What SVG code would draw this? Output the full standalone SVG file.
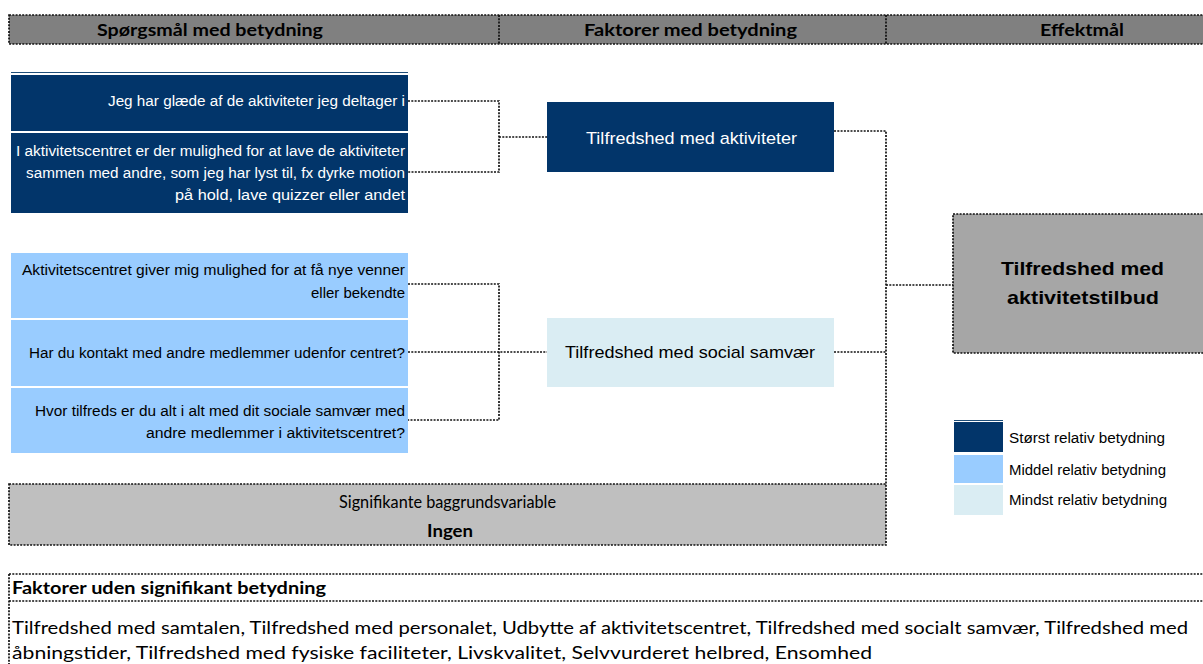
<svg xmlns="http://www.w3.org/2000/svg" width="1203" height="664" viewBox="0 0 1203 664">
<style>
.dash{fill:none;stroke:#111;stroke-width:1.7;stroke-dasharray:2 1.3}
.hdr{font-family:Lato,"Liberation Sans",sans-serif;font-weight:bold;font-size:17.5px;fill:#000;text-anchor:middle}
.q{font-family:"Liberation Sans",Arial,sans-serif;font-size:14px;text-anchor:end}
.qw{fill:#fff}
.qd{fill:#000}
.fac{font-family:"Liberation Sans",Arial,sans-serif;font-size:17px;text-anchor:middle}
.eff{font-family:"Liberation Sans",Arial,sans-serif;font-weight:bold;font-size:19px;text-anchor:middle;fill:#000}
.leg{font-family:"Liberation Sans",Arial,sans-serif;font-size:14px;fill:#000}
.cal{font-family:Lato,"Liberation Sans",sans-serif;font-size:16.5px;fill:#000}
.big{font-size:18px}
</style>
<rect width="1203" height="664" fill="#fff"/>
<g id="header">
<rect x="9" y="15" width="1196" height="29" fill="#808080"/>
<rect x="9" y="15" width="1196" height="29" class="dash"/>
<line x1="499" y1="15" x2="499" y2="44" class="dash"/>
<line x1="886" y1="15" x2="886" y2="44" class="dash"/>
<text x="210" y="36" class="hdr" textLength="226" lengthAdjust="spacingAndGlyphs">Spørgsmål med betydning</text>
<text x="690.5" y="36" class="hdr" textLength="213" lengthAdjust="spacingAndGlyphs">Faktorer med betydning</text>
<text x="1082" y="36" class="hdr" textLength="84" lengthAdjust="spacingAndGlyphs">Effektmål</text>
</g>
<g id="connectors">
<polyline points="408,101 499,101 499,172 408,172" class="dash"/>
<line x1="499" y1="137" x2="547" y2="137" class="dash"/>
<polyline points="834,131 886,131 886,484" class="dash"/>
<line x1="886" y1="285" x2="953" y2="285" class="dash"/>
<polyline points="408,284 499,284 499,420 408,420" class="dash"/>
<line x1="408" y1="352" x2="547" y2="352" class="dash"/>
<line x1="834" y1="352" x2="886" y2="352" class="dash"/>
</g>
<g id="q-group-1">
<line x1="11" y1="72.5" x2="408" y2="72.5" stroke="#1f4e79" stroke-width="1"/>
<rect x="11" y="75" width="397" height="56" fill="#02356a"/>
<rect x="11" y="133" width="397" height="80" fill="#02356a"/>
<text x="405" y="106" class="q qw" textLength="297" lengthAdjust="spacingAndGlyphs">Jeg har glæde af de aktiviteter jeg deltager i</text>
<text x="405" y="156" class="q qw" textLength="389" lengthAdjust="spacingAndGlyphs">I aktivitetscentret er der mulighed for at lave de aktiviteter</text>
<text x="405" y="178" class="q qw" textLength="379" lengthAdjust="spacingAndGlyphs">sammen med andre, som jeg har lyst til, fx dyrke motion</text>
<text x="405" y="200" class="q qw" textLength="230" lengthAdjust="spacingAndGlyphs">på hold, lave quizzer eller andet</text>
</g>
<g id="q-group-2">
<rect x="11" y="253" width="397" height="65" fill="#99ccff"/>
<rect x="11" y="320" width="397" height="66" fill="#99ccff"/>
<rect x="11" y="388" width="397" height="65" fill="#99ccff"/>
<text x="405" y="275" class="q qd" textLength="383" lengthAdjust="spacingAndGlyphs">Aktivitetscentret giver mig mulighed for at få nye venner</text>
<text x="405" y="298" class="q qd" textLength="94" lengthAdjust="spacingAndGlyphs">eller bekendte</text>
<text x="405" y="358" class="q qd" textLength="376" lengthAdjust="spacingAndGlyphs">Har du kontakt med andre medlemmer udenfor centret?</text>
<text x="405" y="416" class="q qd" textLength="370" lengthAdjust="spacingAndGlyphs">Hvor tilfreds er du alt i alt med dit sociale samvær med</text>
<text x="405" y="438" class="q qd" textLength="259" lengthAdjust="spacingAndGlyphs">andre medlemmer i aktivitetscentret?</text>
</g>
<g id="factor-1">
<rect x="547" y="102" width="287" height="70" fill="#02356a"/>
<text x="691.5" y="144" class="fac" fill="#fff" textLength="211" lengthAdjust="spacingAndGlyphs">Tilfredshed med aktiviteter</text>
</g>
<g id="factor-2">
<rect x="547" y="318" width="287" height="69" fill="#daedf3"/>
<text x="690" y="358" class="fac" fill="#000" textLength="250" lengthAdjust="spacingAndGlyphs">Tilfredshed med social samvær</text>
</g>
<g id="effect">
<rect x="953" y="214" width="252" height="139" fill="#a6a6a6"/>
<rect x="953" y="214" width="252" height="139" class="dash"/>
<text x="1082.5" y="275" class="eff" textLength="163" lengthAdjust="spacingAndGlyphs">Tilfredshed med</text>
<text x="1083" y="304" class="eff" textLength="152" lengthAdjust="spacingAndGlyphs">aktivitetstilbud</text>
</g>
<g id="background">
<rect x="9" y="484" width="877" height="61" fill="#bfbfbf"/>
<rect x="9" y="484" width="877" height="61" class="dash"/>
<text x="447.5" y="508" class="cal" text-anchor="middle" textLength="217" lengthAdjust="spacingAndGlyphs">Signifikante baggrundsvariable</text>
<text x="450" y="537" class="cal" font-weight="bold" text-anchor="middle" textLength="46" lengthAdjust="spacingAndGlyphs">Ingen</text>
</g>
<g id="legend">
<line x1="954" y1="420.5" x2="1003" y2="420.5" stroke="#1f4e79" stroke-width="1"/>
<rect x="954" y="422" width="49" height="30" fill="#02356a"/>
<rect x="954" y="455" width="49" height="28" fill="#99ccff"/>
<rect x="954" y="485" width="49" height="30" fill="#daedf3"/>
<text x="1009" y="443" class="leg" textLength="156" lengthAdjust="spacingAndGlyphs">Størst relativ betydning</text>
<text x="1009" y="475" class="leg" textLength="157" lengthAdjust="spacingAndGlyphs">Middel relativ betydning</text>
<text x="1009" y="505" class="leg" textLength="158" lengthAdjust="spacingAndGlyphs">Mindst relativ betydning</text>
</g>
<g id="nonsignificant">
<line x1="9" y1="574" x2="1205" y2="574" class="dash"/>
<line x1="9" y1="601" x2="1205" y2="601" class="dash"/>
<line x1="9" y1="574" x2="9" y2="664" class="dash"/>
<text x="12" y="594" class="cal" font-weight="bold" textLength="314" lengthAdjust="spacingAndGlyphs">Faktorer uden signifikant betydning</text>
<text x="12" y="634" class="cal big" textLength="1176" lengthAdjust="spacingAndGlyphs">Tilfredshed med samtalen, Tilfredshed med personalet, Udbytte af aktivitetscentret, Tilfredshed med socialt samvær, Tilfredshed med</text>
<text x="12" y="659" class="cal big" textLength="860" lengthAdjust="spacingAndGlyphs">åbningstider, Tilfredshed med fysiske faciliteter, Livskvalitet, Selvvurderet helbred, Ensomhed</text>
</g>
</svg>
